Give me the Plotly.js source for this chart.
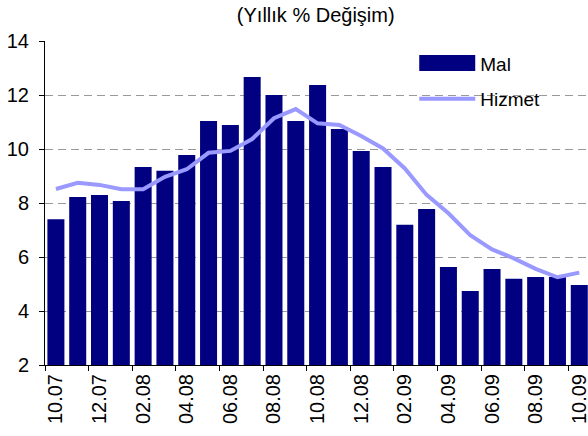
<!DOCTYPE html>
<html>
<head>
<meta charset="utf-8">
<script src="https://cdn.plot.ly/plotly-3.0.1.min.js"></script>
<style>
  html, body { margin: 0; padding: 0; background: #fff; }
  #plot { width: 588px; height: 436px; }
</style>
</head>
<body>
<div id="plot"></div>
<script>
// months (mm.yy)
const months = ['10.07', '11.07', '12.07', '01.08', '02.08', '03.08', '04.08', '05.08', '06.08',
    '07.08', '08.08', '09.08', '10.08', '11.08', '12.08', '01.09', '02.09', '03.09', '04.09',
    '05.09', '06.09', '07.09', '08.09', '09.09', '10.09'];

// annual % change, goods
const mal = [7.40, 8.22, 8.30, 8.07, 9.33, 9.19, 9.78, 11.04, 10.89, 12.67, 12.00, 11.04, 12.37,
    10.74, 9.93, 9.33, 7.19, 7.78, 5.63, 4.74, 5.56, 5.19, 5.26, 5.26, 4.96];

// annual % change, services
const hizmet = [8.52, 8.75, 8.67, 8.51, 8.51, 8.97, 9.25, 9.86, 9.93, 10.37, 11.14, 11.48, 10.95,
    10.89, 10.48, 10.02, 9.28, 8.30, 7.62, 6.81, 6.28, 5.95, 5.56, 5.25, 5.42];

// only every second month gets a label
const tickLabels = months.filter((m, i) => i % 2 === 0);

const barTrace = {
    x: months,
    y: mal,
    type: 'bar',
    name: 'Mal',
    legendgroup: 'mal',
    marker: { color: '#000080' }
};

const lineTrace = {
    x: months,
    y: hizmet,
    type: 'scatter',
    mode: 'lines',
    name: 'Hizmet',
    legendgroup: 'hizmet',
    line: { color: '#9999FF', width: 4 }
};

const layout = {
    width: 588,
    height: 436,
    margin: { l: 45, r: 0, t: 41, b: 71 },
    paper_bgcolor: '#fff',
    plot_bgcolor: '#fff',
    font: { family: 'Liberation Sans, Arial, sans-serif', size: 20, color: '#000' },
    bargap: 0.22,
    title: {
        text: '(Yıllık % Değişim)',
        x: 0.537,
        xanchor: 'center',
        y: 0.965,
        yanchor: 'middle',
        font: { size: 20 }
    },
    xaxis: {
        type: 'category',
        range: [-0.5, 24.4],
        tickmode: 'array',
        tickvals: tickLabels,
        ticktext: tickLabels,
        tickson: 'boundaries',
        ticks: 'outside',
        ticklen: 5,
        tickcolor: '#000',
        tickangle: -90,
        showline: true,
        linecolor: '#000',
        linewidth: 1,
        showgrid: false,
        tickfont: { size: 20 }
    },
    yaxis: {
        range: [2, 14],
        dtick: 2,
        ticks: 'outside',
        ticklen: 5,
        tickcolor: '#000',
        ticklabelstandoff: 6,
        showline: true,
        linecolor: '#000',
        linewidth: 1,
        gridcolor: '#999',
        griddash: '8px,5px',
        zeroline: false,
        tickfont: { size: 20 }
    },
    legend: {
        x: 0.68,
        y: 0.99,
        xanchor: 'left',
        yanchor: 'top',
        bgcolor: 'rgba(0,0,0,0)',
        itemwidth: 56,
        tracegroupgap: 8,
        font: { size: 19 }
    },
    showlegend: true
};

// stretch the bar swatch in the legend to a wide box like the original
function widenSwatch() {
    document.querySelectorAll('.legendpoints path.legendbar, .legendpoints path.legendundefined').forEach(function(p) {
        p.setAttribute('d', 'M-28,-8H28V8H-28Z');
    });
}

Plotly.newPlot('plot', [barTrace, lineTrace], layout, { displayModeBar: false, staticPlot: true })
    .then(function() {
        widenSwatch();
        setTimeout(widenSwatch, 50);
    });
</script>
</body>
</html>
